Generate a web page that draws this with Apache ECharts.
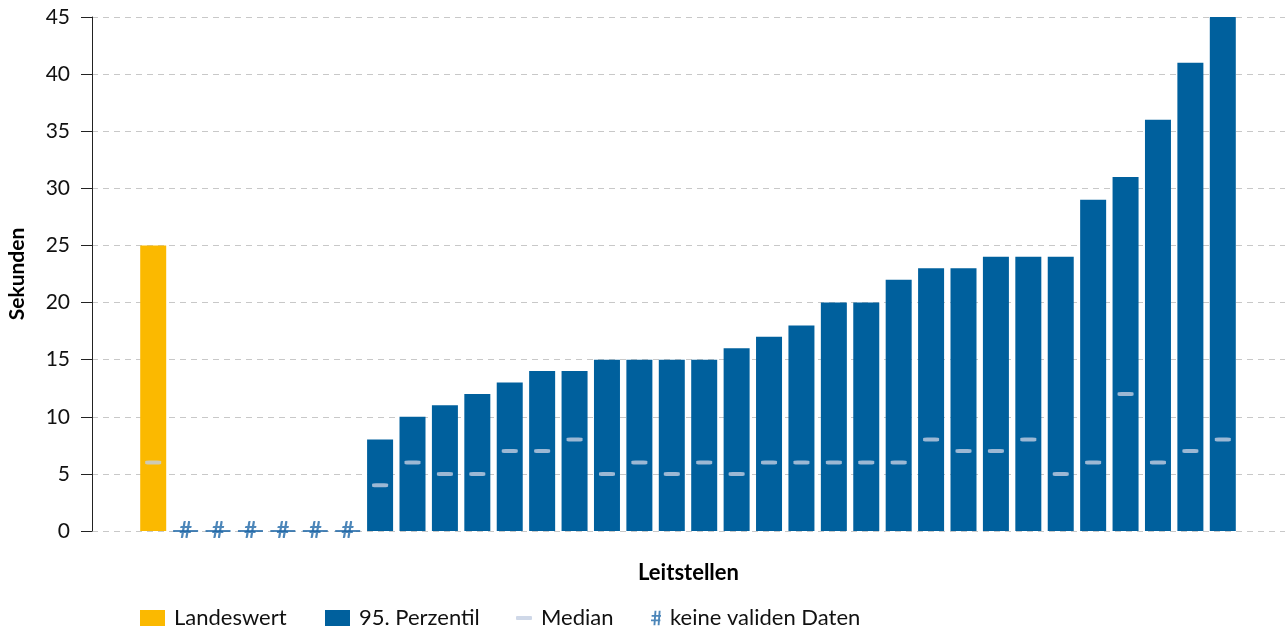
<!DOCTYPE html>
<html>
<head>
<meta charset="utf-8">
<script src="https://cdn.jsdelivr.net/npm/echarts@6/dist/echarts.min.js"></script>
<style>
  html, body { margin: 0; padding: 0; background: #fff; }
  #chart { width: 1285px; height: 631px; }
</style>
</head>
<body>
<div id="chart"></div>
<script>
// Leitstellen: 95. Perzentil und Median der Bearbeitungszeit in Sekunden
const categories = ['Landeswert',
  'LS 01', 'LS 02', 'LS 03', 'LS 04', 'LS 05', 'LS 06',
  'LS 07', 'LS 08', 'LS 09', 'LS 10', 'LS 11', 'LS 12', 'LS 13', 'LS 14', 'LS 15',
  'LS 16', 'LS 17', 'LS 18', 'LS 19', 'LS 20', 'LS 21', 'LS 22', 'LS 23', 'LS 24',
  'LS 25', 'LS 26', 'LS 27', 'LS 28', 'LS 29', 'LS 30', 'LS 31', 'LS 32', 'LS 33'];

const landeswert = [25, null, null, null, null, null, null,
  null, null, null, null, null, null, null, null, null, null, null, null, null, null,
  null, null, null, null, null, null, null, null, null, null, null, null, null];

const perzentil95 = [null, null, null, null, null, null, null,
  8, 10, 11, 12, 13, 14, 14, 15, 15, 15, 15, 16, 17, 18,
  20, 20, 22, 23, 23, 24, 24, 24, 29, 31, 36, 41, 45];

const median = [6, null, null, null, null, null, null,
  4, 6, 5, 5, 7, 7, 8, 5, 6, 5, 6, 5, 6, 6,
  6, 6, 6, 8, 7, 7, 8, 5, 6, 12, 6, 7, 8];

// 0 = keine validen Daten for this Leitstelle
const keineDaten = [null, 0, 0, 0, 0, 0, 0,
  null, null, null, null, null, null, null, null, null, null, null, null, null, null,
  null, null, null, null, null, null, null, null, null, null, null, null, null];

const yTicks = { min: 0, max: 45, interval: 5 };

const YELLOW = '#FBB900';
const BLUE = '#00609D';
const MEDIAN = '#C3CEE2';
const HASH = '#1F68A8';
const FONT = 'Lato, "Open Sans", sans-serif';

const hashIcon = 'path://M3.4,0h1.8l-1,14h-1.8z M7.4,0h1.8l-1,14h-1.8z M0.6,4h9v1.8h-9z M0,8.4h9v1.8h-9z';

const chart = echarts.init(document.getElementById('chart'), null, { renderer: 'canvas' });

const legendBase = {
  top: 602,
  orient: 'horizontal',
  selectedMode: false,
  textStyle: { fontFamily: FONT, fontSize: 22, color: '#111', padding: [0, 0, 0, 4] }
};

chart.setOption({
  animation: false,
  backgroundColor: '#fff',
  textStyle: { fontFamily: FONT },
  grid: [
    { left: 92, right: 0, top: 17, bottom: 100, outerBoundsMode: 'none', containLabel: false },
    { left: 137, right: 46, top: 17, bottom: 100, outerBoundsMode: 'none', containLabel: false }
  ],
  xAxis: [
    {
      type: 'value', gridIndex: 0, min: 0, max: 1,
      axisLine: { show: false }, axisTick: { show: false },
      axisLabel: { show: false }, splitLine: { show: false },
      name: 'Leitstellen', nameLocation: 'middle', nameGap: 31,
      nameTextStyle: { fontFamily: FONT, fontSize: 22, fontWeight: 'bold', color: '#000' }
    },
    {
      type: 'category', gridIndex: 1, data: categories,
      axisLine: { show: false }, axisTick: { show: false },
      axisLabel: { show: false }, splitLine: { show: false }
    }
  ],
  yAxis: [
    {
      type: 'value', gridIndex: 0,
      min: yTicks.min, max: yTicks.max, interval: yTicks.interval,
      axisLine: { show: true, lineStyle: { color: '#222', width: 1 } },
      axisTick: { show: true, length: 11, lineStyle: { color: '#222', width: 1 } },
      axisLabel: { margin: 22, fontFamily: FONT, fontSize: 21, color: '#111' },
      splitLine: { show: true, lineStyle: { color: '#C8C8C8', type: [6, 5], width: 1 } },
      name: 'Sekunden', nameLocation: 'middle', nameGap: 64, nameRotate: 90,
      nameTextStyle: { fontFamily: FONT, fontSize: 21, fontWeight: 'bold', color: '#000' }
    },
    {
      type: 'value', gridIndex: 1,
      min: yTicks.min, max: yTicks.max, interval: yTicks.interval,
      axisLine: { show: false }, axisTick: { show: false },
      axisLabel: { show: false }, splitLine: { show: false }
    }
  ],
  legend: [
    Object.assign({}, legendBase, { left: 135, itemWidth: 25, itemHeight: 16,
      data: [{ name: 'Landeswert', icon: 'rect' }] }),
    Object.assign({}, legendBase, { left: 320, itemWidth: 25, itemHeight: 16,
      data: [{ name: '95. Perzentil', icon: 'rect' }] }),
    Object.assign({}, legendBase, { left: 511, itemWidth: 16, itemHeight: 4,
      data: [{ name: 'Median', icon: 'roundRect' }] }),
    Object.assign({}, legendBase, { left: 646, itemWidth: 10, itemHeight: 15,
      data: [{ name: 'keine validen Daten', icon: hashIcon, itemStyle: { color: HASH } }] })
  ],
  series: [
    {
      name: 'Landeswert', type: 'bar', xAxisIndex: 1, yAxisIndex: 1,
      data: landeswert, barWidth: 26, barGap: '-100%',
      itemStyle: { color: YELLOW }
    },
    {
      name: '95. Perzentil', type: 'bar', xAxisIndex: 1, yAxisIndex: 1,
      data: perzentil95, barWidth: 26, barGap: '-100%',
      itemStyle: { color: BLUE }
    },
    {
      name: 'Median', type: 'scatter', xAxisIndex: 1, yAxisIndex: 1,
      data: median, symbol: 'roundRect', symbolSize: [16, 4], z: 5,
      itemStyle: { color: MEDIAN }
    },
    {
      name: 'keine validen Daten', type: 'scatter', xAxisIndex: 1, yAxisIndex: 1,
      data: keineDaten, symbol: 'rect', symbolSize: [25, 2], z: 5,
      itemStyle: { color: HASH },
      label: {
        show: true, position: 'inside', formatter: '#',
        fontFamily: FONT, fontSize: 22, fontWeight: 'bold', color: HASH
      }
    }
  ]
});
</script>
</body>
</html>
